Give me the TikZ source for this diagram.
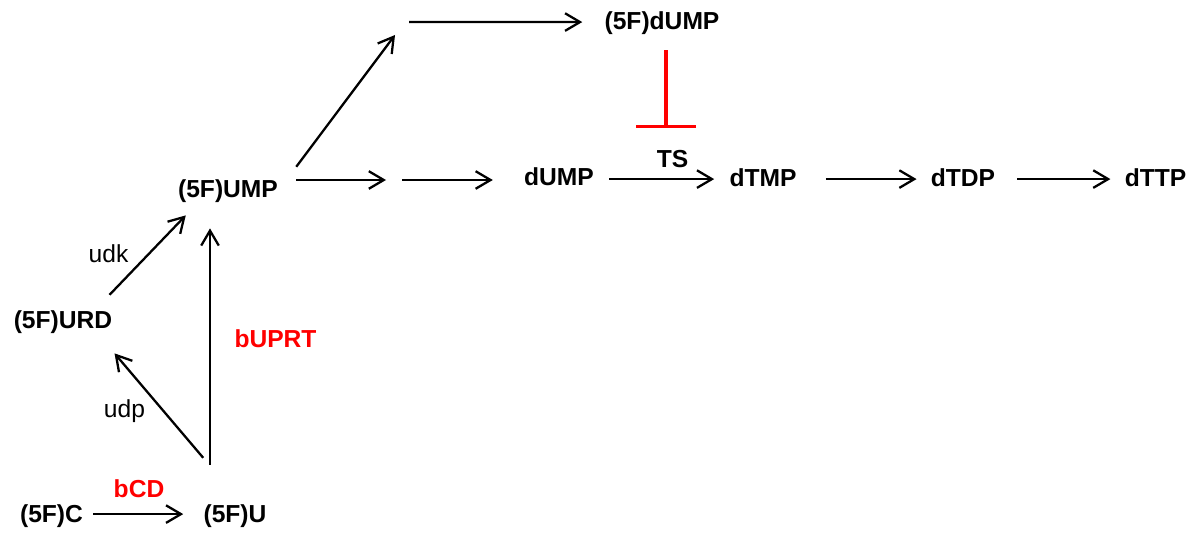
\documentclass[tikz,border=0pt]{standalone}
\usepackage{fontspec}
\setmainfont{Liberation Sans}
\usetikzlibrary{arrows.meta}
\begin{document}
\begin{tikzpicture}[x=0.2mm,y=-0.2mm,
    mol/.style={inner sep=0pt,text height=13pt,text depth=4pt,anchor=base,font=\fontsize{14}{16}\selectfont\bfseries},
    enz/.style={mol,text=red},
    lbl/.style={inner sep=0pt,anchor=base,font=\fontsize{14}{16}\selectfont},
    arr/.style={line width=1.3pt,-{Straight Barb[length=8.5pt,width=10pt]}},
    inhib/.style={red,line width=1.8pt,-{Bar[width=12mm]}}]
    \useasboundingbox (0,0) rectangle (1204,535);
    % metabolites
    \node[mol] (c5f) at (51.5,522) {(5F)C};
    \node[mol] (u5f) at (235,522) {(5F)U};
    \node[mol] (urd) at (63,328) {(5F)URD};
    \node[mol] (ump) at (228,197) {(5F)UMP};
    \node[mol] (fdump) at (662,30) {(5F)dUMP};
    \node[mol] (dump) at (559,185) {dUMP};
    \node[mol] (dtmp) at (763,187) {dTMP};
    \node[mol] (dtdp) at (963,187) {dTDP};
    \node[mol] (dttp) at (1155.5,187) {dTTP};
    % enzymes
    \node[enz] (bcd) at (139,497) {bCD};
    \node[enz] (buprt) at (275.5,347) {bUPRT};
    \node[lbl] (udk) at (108.5,262) {udk};
    \node[lbl] (udp) at (124.5,417) {udp};
    \node[mol] (ts) at (672.5,168) {TS};
    % free ends
    \coordinate (up) at (395,35);
    \coordinate (upr) at (409,22);
    \coordinate (m1) at (386,180);
    \coordinate (m2) at (402,180);
    \coordinate (blk) at (666,128);
    % reactions
    \draw[arr,shorten <=2mm,shorten >=4mm] (c5f) -- (u5f);
    \draw[arr] ([shift={(0,-41)}]u5f.north west) -- ([shift={(2,18)}]urd.south east);
    \draw[arr] ([shift={(-25,-34)}]u5f.north) -- ([shift={(-18,24)}]ump.south);
    \draw[arr] ([shift={(-3,-10)}]urd.north east) -- ([shift={(8,11)}]ump.south west);
    \draw[arr] ([shift={(18,-7)}]ump.north east) -- (up);
    \draw[arr,shorten >=4.4mm] (upr) -- (fdump);
    \draw[arr,shorten <=3.6mm] (ump.east |- m1) -- (m1);
    \draw[arr,shorten >=6.2mm] (m2) -- (dump.west |- m2);
    \draw[arr,shorten <=3mm,shorten >=3mm] (dump.east |- dtmp) -- (dtmp);
    \draw[arr,shorten <=5.8mm,shorten >=2.8mm] (dtmp) -- (dtdp);
    \draw[arr,shorten <=4.4mm,shorten >=2.8mm] (dtdp) -- (dttp);
    \draw[inhib,shorten <=2.6mm] (fdump.south -| blk) -- (blk);
\end{tikzpicture}
\end{document}
